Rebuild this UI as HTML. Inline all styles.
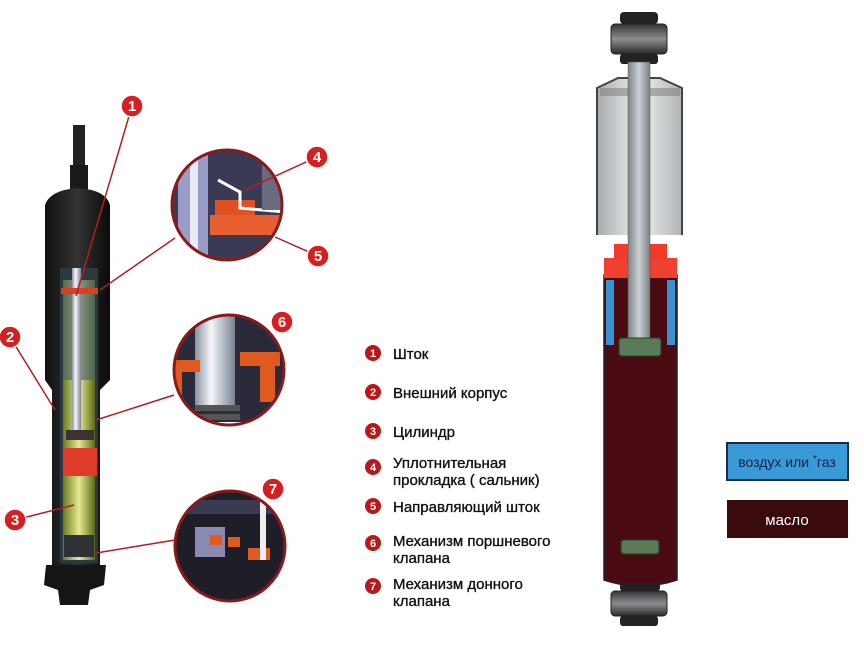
<!DOCTYPE html>
<html><head><meta charset="utf-8"><style>
html,body{margin:0;padding:0;background:#fff}
svg{display:block}
text{font-family:"Liberation Sans",sans-serif}
</style></head><body>
<svg width="864" height="648" viewBox="0 0 864 648" xmlns="http://www.w3.org/2000/svg">
<defs>
<linearGradient id="blk" x1="0" x2="1"><stop offset="0" stop-color="#111"/><stop offset="0.5" stop-color="#333"/><stop offset="1" stop-color="#0a0a0a"/></linearGradient>
<linearGradient id="yel" x1="0" x2="1"><stop offset="0" stop-color="#6a7a20"/><stop offset="0.5" stop-color="#e6ea90"/><stop offset="1" stop-color="#5a6a18"/></linearGradient>
<linearGradient id="rod" x1="0" x2="1"><stop offset="0" stop-color="#8a92a0"/><stop offset="0.4" stop-color="#f4f6fa"/><stop offset="1" stop-color="#7a8292"/></linearGradient>
<linearGradient id="grod" x1="0" x2="1"><stop offset="0" stop-color="#7d8488"/><stop offset="0.5" stop-color="#c9cfd2"/><stop offset="1" stop-color="#7a8084"/></linearGradient>
<linearGradient id="cov" x1="0" x2="1"><stop offset="0" stop-color="#a8acae"/><stop offset="0.5" stop-color="#eef0f0"/><stop offset="1" stop-color="#b0b4b6"/></linearGradient>
<linearGradient id="mnt" x1="0" x2="0" y1="0" y2="1"><stop offset="0" stop-color="#333"/><stop offset="0.5" stop-color="#8a8d90"/><stop offset="1" stop-color="#2a2a2a"/></linearGradient>
<clipPath id="c1"><circle cx="227" cy="205" r="54"/></clipPath>
<clipPath id="c2"><circle cx="229" cy="370" r="54"/></clipPath>
<clipPath id="c3"><circle cx="230" cy="546" r="54"/></clipPath>
</defs>

<!-- LEFT SHOCK -->
<rect x="73" y="125" width="12" height="70" fill="#222"/>
<rect x="70" y="165" width="18" height="35" fill="#1a1a1a"/>
<path d="M45 205 Q50 190 78 188 Q106 190 110 205 L110 380 L100 390 L100 565 L52 565 L52 390 L45 380 Z" fill="url(#blk)"/>
<rect x="60" y="268" width="38" height="295" fill="#2a3a40"/>
<rect x="63" y="280" width="32" height="280" fill="url(#yel)"/>
<rect x="63" y="280" width="32" height="100" fill="#4a6070" opacity="0.6"/>
<rect x="72" y="268" width="9" height="165" fill="url(#rod)"/>
<rect x="61" y="288" width="37" height="6" fill="#d84020"/>
<rect x="63" y="448" width="34" height="28" fill="#e03a2a"/>
<rect x="66" y="430" width="28" height="10" fill="#403030"/>
<rect x="64" y="535" width="30" height="22" fill="#303038"/>
<path d="M46 565 L106 565 L104 585 L90 590 L88 605 L60 605 L58 590 L44 585 Z" fill="#151515"/>

<!-- zoom circles -->
<g clip-path="url(#c1)"><rect x="170" y="150" width="120" height="120" fill="#3a3a55"/>
<rect x="178" y="150" width="30" height="120" fill="#9a9cc8"/><rect x="190" y="150" width="8" height="120" fill="#e8eaf8"/>
<rect x="215" y="200" width="40" height="15" fill="#e05020"/><rect x="210" y="215" width="70" height="20" fill="#e86030"/>
<path d="M218 180 L240 192 L240 208 L285 212" stroke="#fff" stroke-width="3" fill="none"/>
<rect x="262" y="150" width="28" height="60" fill="#6a6a80"/></g>
<circle cx="227" cy="205" r="55" fill="none" stroke="#8a1a1a" stroke-width="3"/>
<g clip-path="url(#c2)"><rect x="170" y="315" width="120" height="120" fill="#2a2a3a"/>
<rect x="195" y="315" width="40" height="90" fill="url(#rod)"/>
<rect x="175" y="360" width="25" height="12" fill="#e05a20"/><rect x="240" y="352" width="40" height="14" fill="#e05a20"/>
<rect x="260" y="362" width="15" height="40" fill="#e05a20"/><rect x="170" y="372" width="12" height="40" fill="#e05a20"/>
<rect x="195" y="405" width="45" height="6" fill="#555"/><rect x="195" y="414" width="45" height="6" fill="#555"/>
<rect x="180" y="422" width="90" height="20" fill="#fff"/></g>
<circle cx="229" cy="370" r="55" fill="none" stroke="#8a1a1a" stroke-width="3"/>
<g clip-path="url(#c3)"><rect x="170" y="490" width="120" height="120" fill="#1e1e28"/>
<rect x="178" y="500" width="100" height="14" fill="#3a3a50"/>
<rect x="195" y="527" width="30" height="30" fill="#8a8ab0"/>
<rect x="210" y="535" width="12" height="10" fill="#e05a20"/><rect x="228" y="537" width="12" height="10" fill="#e05a20"/><rect x="248" y="548" width="22" height="12" fill="#e05a20"/>
<rect x="260" y="490" width="6" height="70" fill="#eee"/></g>
<circle cx="230" cy="546" r="55" fill="none" stroke="#8a1a1a" stroke-width="3"/>

<!-- leader lines -->
<g stroke="#b02020" stroke-width="1.5" fill="none">
<line x1="132" y1="106" x2="76" y2="296"/>
<line x1="175" y1="238" x2="100" y2="290"/>
<line x1="317" y1="157" x2="245" y2="190"/>
<line x1="318" y1="256" x2="275" y2="237"/>
<line x1="174" y1="395" x2="96" y2="420"/>
<line x1="175" y1="540" x2="96" y2="553"/>
<line x1="10" y1="337" x2="55" y2="410"/>
<line x1="15" y1="520" x2="74" y2="505"/>
</g>
<g font-size="15" font-weight="bold" fill="#fff" text-anchor="middle">
<circle cx="132" cy="106" r="11" fill="#d42020" stroke="#fff" stroke-width="1.5"/><text x="132" y="111">1</text>
<circle cx="10" cy="337" r="11" fill="#d42020" stroke="#fff" stroke-width="1.5"/><text x="10" y="342">2</text>
<circle cx="15" cy="520" r="11" fill="#d42020" stroke="#fff" stroke-width="1.5"/><text x="15" y="525">3</text>
<circle cx="317" cy="157" r="11" fill="#d42020" stroke="#fff" stroke-width="1.5"/><text x="317" y="162">4</text>
<circle cx="318" cy="256" r="11" fill="#d42020" stroke="#fff" stroke-width="1.5"/><text x="318" y="261">5</text>
<circle cx="282" cy="322" r="11" fill="#d42020" stroke="#fff" stroke-width="1.5"/><text x="282" y="327">6</text>
<circle cx="273" cy="489" r="11" fill="#d42020" stroke="#fff" stroke-width="1.5"/><text x="273" y="494">7</text>
</g>

<!-- legend -->
<g font-size="11" font-weight="bold" fill="#fff" text-anchor="middle">
<circle cx="373" cy="353" r="8" fill="#b81818"/><text x="373" y="357">1</text>
<circle cx="373" cy="392" r="8" fill="#b81818"/><text x="373" y="396">2</text>
<circle cx="373" cy="431" r="8" fill="#b81818"/><text x="373" y="435">3</text>
<circle cx="373" cy="467" r="8" fill="#b81818"/><text x="373" y="471">4</text>
<circle cx="373" cy="506" r="8" fill="#b81818"/><text x="373" y="510">5</text>
<circle cx="373" cy="543" r="8" fill="#b81818"/><text x="373" y="547">6</text>
<circle cx="373" cy="586" r="8" fill="#b81818"/><text x="373" y="590">7</text>
</g>
<g font-size="15" fill="#111" stroke="#111" stroke-width="0.35">
<text x="393" y="359">Шток</text>
<text x="393" y="398">Внешний корпус</text>
<text x="393" y="437">Цилиндр</text>
<text x="393" y="468">Уплотнительная</text>
<text x="393" y="485">прокладка ( сальник)</text>
<text x="393" y="512">Направляющий шток</text>
<text x="393" y="546">Механизм поршневого</text>
<text x="393" y="563">клапана</text>
<text x="393" y="589">Механизм донного</text>
<text x="393" y="606">клапана</text>
</g>

<!-- RIGHT SHOCK -->
<rect x="620" y="12" width="38" height="12" rx="4" fill="#222"/>
<rect x="611" y="24" width="56" height="30" rx="4" fill="url(#mnt)" stroke="#222"/>
<rect x="620" y="54" width="38" height="10" rx="3" fill="#222"/>
<path d="M597 235 L597 88 L618 78 L660 78 L682 88 L682 235" fill="url(#cov)" stroke="#444" stroke-width="2"/>
<rect x="600" y="88" width="80" height="8" fill="#777" opacity="0.5"/>
<path d="M604 275 L604 580 Q640 592 677 580 L677 275 Z" fill="#4a0c12" stroke="#222" stroke-width="1.5"/>
<rect x="606" y="280" width="8" height="65" fill="#3a90d0"/>
<rect x="667" y="280" width="8" height="65" fill="#3a90d0"/>
<rect x="604" y="258" width="73" height="20" fill="#f04030"/>
<rect x="614" y="244" width="53" height="16" fill="#f03a2a"/>
<rect x="628" y="62" width="22" height="280" fill="url(#grod)" stroke="#555" stroke-width="0.5"/>
<rect x="619" y="338" width="42" height="18" rx="3" fill="#5a7a5a" stroke="#224422"/>
<rect x="621" y="540" width="38" height="14" rx="3" fill="#5a7a5a" stroke="#224422"/>
<rect x="620" y="583" width="40" height="8" rx="3" fill="#222"/>
<rect x="611" y="591" width="56" height="25" rx="4" fill="url(#mnt)" stroke="#222"/>
<rect x="620" y="616" width="38" height="10" rx="3" fill="#222"/>

<!-- color legend -->
<rect x="727" y="443" width="121" height="37" fill="#3a9ad8" stroke="#1a2a4a" stroke-width="2"/>
<text x="787" y="467" font-size="14" fill="#14204a" text-anchor="middle">воздух или <tspan dy="-5" font-size="10">*</tspan><tspan dy="5">газ</tspan></text>
<rect x="727" y="500" width="121" height="38" fill="#3b0a0c"/>
<text x="787" y="525" font-size="15" fill="#fff" text-anchor="middle">масло</text>
</svg>
</body></html>
